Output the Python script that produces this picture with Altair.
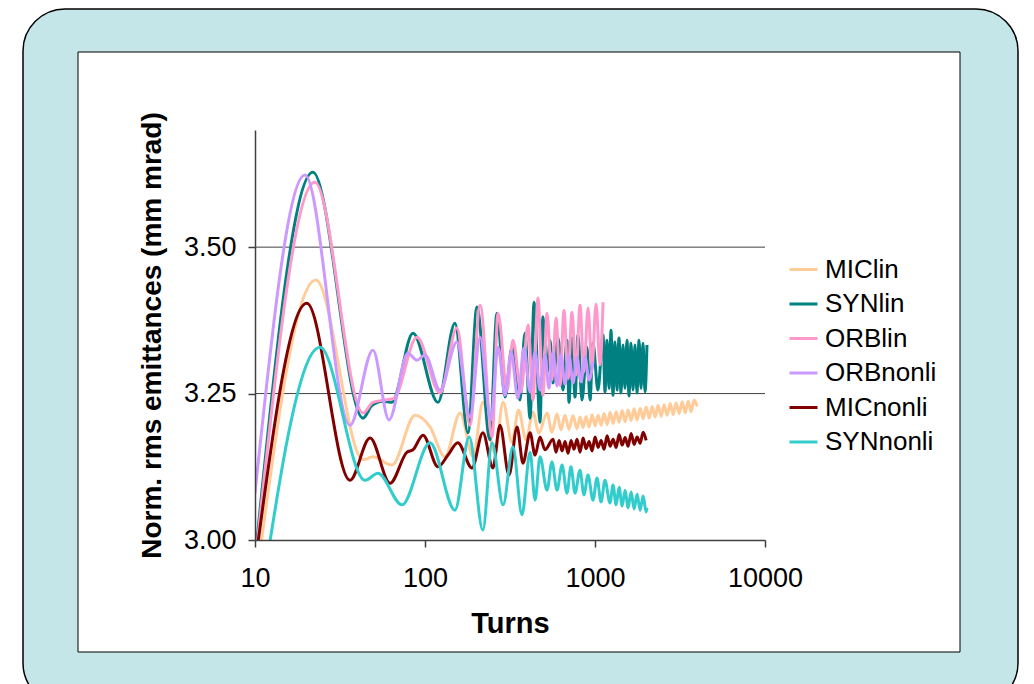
import altair as alt
import pandas as pd

series_names = ["MIClin", "SYNlin", "ORBlin", "ORBnonli", "MICnonli", "SYNnonli"]
series_colors = ["#ffcc99", "#008080", "#ff99cc", "#cc99ff", "#800000", "#33cccc"]

# ---- MIClin ----
miclin_turns = [10, 22.8, 43.2, 49.4, 64.0, 87.4, 107, 131, 161, 192, 219, 258, 288, 325, 355, 393,
                432, 468, 522, 558, 598, 631, 666, 703, 742,
                784, 817, 851, 886, 923, 961, 1001, 1043, 1086, 1131, 1178, 1227, 1278, 1331, 1386,
                1444, 1504, 1566, 1631, 1699, 1769, 1843, 1919, 1999, 2082, 2168, 2258, 2352, 2450,
                2551, 2657, 2768, 2883, 3002, 3127, 3257, 3392, 3532, 3679, 3832, 3991]
miclin_vals = [2.915, 3.444, 3.137, 3.142, 3.128, 3.213, 3.193, 3.142, 3.217, 3.142, 3.235, 3.148, 3.235,
               3.167, 3.222, 3.171, 3.218, 3.183, 3.217, 3.184, 3.215, 3.188, 3.213, 3.189, 3.212,
               3.190, 3.210, 3.192, 3.211, 3.193, 3.214, 3.195, 3.213, 3.196, 3.216, 3.197, 3.218,
               3.199, 3.219, 3.201, 3.221, 3.202, 3.222, 3.204, 3.224, 3.205, 3.225, 3.207, 3.227,
               3.208, 3.228, 3.210, 3.230, 3.211, 3.231, 3.213, 3.233, 3.214, 3.234, 3.216, 3.236,
               3.217, 3.237, 3.219, 3.239, 3.228]

# ---- SYNlin ----
synlin_turns = [10, 21.9, 43.2, 48.8, 56.6, 63.9, 85.0, 119.3, 150, 179, 202, 241, 265, 296, 325, 362,
                387, 415, 438, 475, 494, 522, 544, 566, 606, 648, 684, 703, 732, 763, 794, 838, 897,
                935, 973, 1041, 1115, 1145, 1177, 1209, 1242, 1276, 1311, 1347, 1384, 1422, 1461,
                1501, 1542, 1585, 1628, 1673, 1719, 1766, 1815, 1865, 1916, 1969, 2022]
synlin_vals = [2.966, 3.628, 3.208, 3.230, 3.237, 3.235, 3.353, 3.235, 3.370, 3.183, 3.398, 3.171,
               3.387, 3.244, 3.329, 3.239, 3.353, 3.208, 3.406, 3.201, 3.381, 3.285, 3.341, 3.268,
               3.345, 3.256, 3.341, 3.235, 3.345, 3.244, 3.350, 3.239, 3.329, 3.239, 3.336, 3.256,
               3.350, 3.253, 3.341, 3.259, 3.358, 3.247, 3.338, 3.256, 3.345, 3.251, 3.333, 3.259,
               3.341, 3.246, 3.336, 3.256, 3.333, 3.251, 3.341, 3.259, 3.336, 3.253, 3.333]

# ---- ORBlin ----
orblin_turns = [10, 22.5, 43.2, 49.4, 58.2, 65.7, 89.7, 122.5, 154, 184, 211, 248, 269, 304, 329, 367,
                404, 432, 462, 494, 522, 558, 590, 623, 657, 694, 732, 773, 816, 861, 910, 960, 1014,
                1070, 1115]
orblin_vals = [2.957, 3.611, 3.217, 3.235, 3.239, 3.242, 3.346, 3.251, 3.362, 3.196, 3.401, 3.176,
               3.387, 3.256, 3.341, 3.253, 3.367, 3.239, 3.413, 3.247, 3.387, 3.273, 3.379, 3.264,
               3.392, 3.276, 3.389, 3.282, 3.401, 3.287, 3.396, 3.294, 3.403, 3.299, 3.406]

# ---- ORBnonli ----
orbnonli_turns = [10, 19.7, 36.2, 49.4, 61.4, 79.4, 89.7, 100, 122.5, 154, 184, 211, 244, 269, 296,
                  321, 352, 382, 415, 444, 475, 508, 536, 566, 598, 631, 666, 703, 742, 784, 827,
                  874, 922, 973]
orbnonli_vals = [3.080, 3.623, 3.196, 3.324, 3.205, 3.319, 3.307, 3.316, 3.256, 3.338, 3.210, 3.346,
                 3.205, 3.329, 3.247, 3.321, 3.242, 3.328, 3.253, 3.321, 3.256, 3.316, 3.259, 3.321,
                 3.263, 3.316, 3.266, 3.316, 3.268, 3.311, 3.270, 3.312, 3.273, 3.304]

# ---- MICnonli ----
micnonli_turns = [10, 20.2, 36.2, 47.5, 62.3, 78.4, 85.0, 97.3, 119.3, 136.5, 156, 189, 219, 251, 276,
                  312, 348, 377, 415, 444, 475, 508, 567, 590, 615, 640, 667, 694, 723, 753, 784, 817,
                  851, 886, 923, 961, 1001, 1043, 1086, 1131, 1178, 1227, 1278, 1331, 1386, 1444,
                  1504, 1566, 1631, 1699, 1769, 1843, 1919, 1999]
micnonli_vals = [2.957, 3.404, 3.102, 3.174, 3.097, 3.150, 3.154, 3.179, 3.125, 3.145, 3.166, 3.123,
                 3.183, 3.123, 3.196, 3.111, 3.193, 3.131, 3.183, 3.145, 3.176, 3.154, 3.172, 3.150,
                 3.170, 3.152, 3.168, 3.148, 3.170, 3.155, 3.172, 3.150, 3.174, 3.156, 3.168, 3.152,
                 3.176, 3.158, 3.170, 3.155, 3.178, 3.160, 3.172, 3.158, 3.180, 3.162, 3.175, 3.160,
                 3.182, 3.163, 3.176, 3.165, 3.184, 3.170]

# ---- SYNnonli ----
synnonli_turns = [10, 24.1, 44.4, 52.9, 73.2, 107, 150, 182, 219, 248, 288, 329, 372, 415, 444, 475,
                  522, 558, 598, 640, 684, 722, 763, 816, 861, 910, 973, 1027, 1085, 1145, 1225, 1276,
                  1331, 1386, 1444, 1504, 1566, 1631, 1699, 1769, 1843, 1919, 1999, 2022]
synnonli_vals = [2.829, 3.329, 3.102, 3.114, 3.060, 3.166, 3.051, 3.176, 3.017, 3.166, 3.060, 3.159,
                 3.043, 3.150, 3.068, 3.142, 3.085, 3.133, 3.085, 3.128, 3.080, 3.125, 3.080, 3.119,
                 3.077, 3.111, 3.068, 3.106, 3.065, 3.102, 3.063, 3.094, 3.060, 3.090, 3.058, 3.085,
                 3.055, 3.082, 3.053, 3.078, 3.051, 3.075, 3.048, 3.055]

x_ticks = [10, 100, 1000, 10000]
y_ticks = [3.00, 3.25, 3.50]
grid_vals = [3.25, 3.50]

all_turns = [miclin_turns, synlin_turns, orblin_turns, orbnonli_turns, micnonli_turns, synnonli_turns]
all_vals = [miclin_vals, synlin_vals, orblin_vals, orbnonli_vals, micnonli_vals, synnonli_vals]

rows = []
for name, ts, vs in zip(series_names, all_turns, all_vals):
    for t, v in zip(ts, vs):
        rows.append({"series": name, "turns": t, "emit": v})
df = pd.DataFrame(rows)

FONT = "Liberation Sans"
W, H = 510, 410
PL, PT = 255, 130

x_scale = alt.Scale(type="log", domain=[10, 10000], nice=False)
y_scale = alt.Scale(domain=[3.0, 3.7], nice=False, zero=False)

y_axis = alt.Axis(values=y_ticks, format=".2f", grid=False, zindex=1,
                  domainColor="#404040", domainWidth=1.5, tickColor="#404040",
                  tickWidth=1.5, tickSize=7, labelFont=FONT, labelFontSize=27,
                  labelColor="#000000", labelPadding=12,
                  title="Norm. rms emittances (mm mrad)", titleFont=FONT,
                  titleFontSize=28, titleFontWeight="bold", titleColor="#000000",
                  titleX=152 - PL, titleY=H / 2, titleAlign="center",
                  titleBaseline="middle")

x_axis = alt.Axis(values=x_ticks, format="d", grid=False, labelFlush=False, zindex=1,
                  domainColor="#404040", domainWidth=1.5, tickColor="#404040",
                  tickWidth=1.5, tickSize=7, labelFont=FONT, labelFontSize=27,
                  labelColor="#000000", labelPadding=18,
                  title="Turns", titleFont=FONT, titleFontSize=29,
                  titleFontWeight="bold", titleColor="#000000",
                  titleX=W / 2, titleY=83, titleAlign="center", titleBaseline="middle")

one = pd.DataFrame({"k": [0]})

outer = alt.Chart(one).mark_rect(
    fill="#c5e6e8", stroke="#000000", strokeWidth=1.5, cornerRadius=42
).encode(
    x=alt.value(23 - PL), x2=alt.value(1018 - PL),
    y=alt.value(9 - PT), y2=alt.value(705 - PT),
)

inner = alt.Chart(one).mark_rect(
    fill="#ffffff", stroke="#000000", strokeWidth=1
).encode(
    x=alt.value(78 - PL), x2=alt.value(960 - PL),
    y=alt.value(52 - PT), y2=alt.value(652 - PT),
)

grid = alt.Chart(pd.DataFrame({"emit": grid_vals})).mark_rule(
    color="#404040", strokeWidth=1
).encode(y=alt.Y("emit:Q", scale=y_scale, axis=y_axis))

lines = alt.Chart(df).mark_line(
    strokeWidth=3, clip=True, interpolate="monotone"
).encode(
    x=alt.X("turns:Q", scale=x_scale, axis=x_axis),
    y=alt.Y("emit:Q", scale=y_scale, axis=y_axis),
    color=alt.Color("series:N",
                    scale=alt.Scale(domain=series_names, range=series_colors),
                    sort=series_names,
                    legend=alt.Legend(title=None, orient="none", legendX=533, legendY=124,
                                      symbolType="stroke", symbolSize=784,
                                      symbolStrokeWidth=3, labelFont=FONT, labelFontSize=26,
                                      labelColor="#000000", rowPadding=5.5, labelOffset=6,
                                      padding=0)),
)

chart = alt.layer(outer, inner, grid, lines).properties(
    width=W, height=H,
    padding={"left": PL, "top": PT, "right": 1034 - PL - W, "bottom": 684 - PT - H},
    autosize=alt.AutoSizeParams(type="none"),
    background="#ffffff",
).configure_view(stroke=None)

chart.save("out.html", embed_options={"renderer": "svg", "actions": False})
